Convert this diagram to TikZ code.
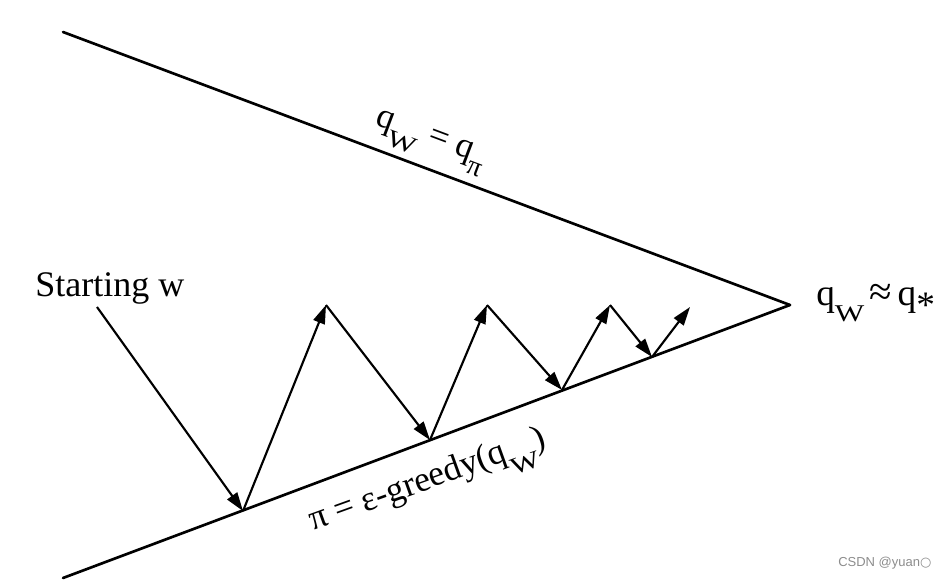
\documentclass[tikz,border=0pt]{standalone}
\usepackage{fontspec}
\usepackage{graphicx}
\setmainfont{Liberation Serif}
\newfontfamily\wmfont{Liberation Sans}
\newfontfamily\wmsym{DejaVu Sans}
\usetikzlibrary{arrows.meta}
\newcommand{\mysubW}{\raisebox{-11.5pt}{\fontsize{18}{18}\selectfont\scalebox{1.3}[1]{W}}}
\newcommand{\mysubPi}{\raisebox{-10pt}{\fontsize{21}{21}\selectfont π}}
\newcommand{\mystar}{\raisebox{-9pt}{*}}
\tikzset{
  mainline/.style={line width=2pt, line cap=round},
  steparrow/.style={line width=1.6pt, -{Triangle[length=14pt,width=9pt]}},
  lbl/.style={inner sep=0pt, font=\fontsize{27}{32}\selectfont},
  flbl/.style={inner sep=0pt, font=\fontsize{26.5}{32}\selectfont},
  wmark/.style={inner sep=0pt, text=black!45, font=\wmfont\fontsize{9.75}{11}\selectfont}
}
\begin{document}
\begin{tikzpicture}[x=0.75pt,y=-0.75pt]
\useasboundingbox (0,0) rectangle (952,580);
% main converging lines
\coordinate (tl) at (63,32);
\coordinate (bl) at (63,578);
\coordinate (apex) at (790,305);
\draw[mainline] (tl) -- (apex);
\draw[mainline] (bl) -- (apex);
% zig-zag points
\coordinate (s0) at (97,307);
\coordinate (b1) at (243,511);
\coordinate (t1) at (326,305);
\coordinate (b2) at (430,440);
\coordinate (t2) at (487,305);
\coordinate (b3) at (562,390);
\coordinate (t3) at (610,305);
\coordinate (b4) at (652,357);
\coordinate (e4) at (690,307);
\draw[steparrow] (s0) -- (b1);
\draw[steparrow] (b1) -- (t1);
\draw[steparrow] (t1) -- (b2);
\draw[steparrow] (b2) -- (t2);
\draw[steparrow] (t2) -- (b3);
\draw[steparrow] (b3) -- (t3);
\draw[steparrow] (t3) -- (b4);
\draw[steparrow] (b4) -- (e4);
% labels
\node[lbl, anchor=base west] (start) at (35,297) {Starting w};
\node[flbl, anchor=base west, rotate=-20.58] (toplbl) at (374,124) {q\mysubW{} = q\mysubPi};
\node[flbl, anchor=base west, rotate=19.8] (botlbl) at (313,531) {π = ε-greedy(q\mysubW)};
\node[lbl, font=\fontsize{28}{32}\selectfont, anchor=base west] (conv) at (816,306) {q\mysubW\hspace{4pt}\scalebox{1.1}{≈}\hspace{4pt}q\mystar};
\node[wmark, anchor=west] (wm) at (838,563) {CSDN @yuan{\wmsym ○}};
\end{tikzpicture}
\end{document}
